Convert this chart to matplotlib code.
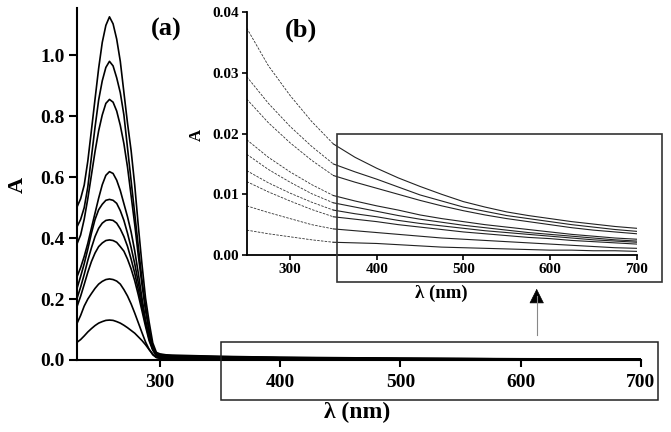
import matplotlib
matplotlib.use("Agg")
import matplotlib.pyplot as plt
from matplotlib.patches import Rectangle, FancyArrowPatch

# ---------------- data ----------------
wl_main = [231, 234, 237, 240, 243, 246, 249, 252, 255, 258, 261, 264, 267, 270,
           273, 276, 279, 282, 285, 288, 291, 294, 297,
           300, 305, 310, 320, 350, 400, 500, 600, 700]

A1 = [0.502, 0.529, 0.574, 0.653, 0.754, 0.856, 0.957, 1.042, 1.098, 1.126, 1.103, 1.053, 0.980, 0.878,
      0.777, 0.687, 0.574, 0.439, 0.315, 0.203, 0.124, 0.056, 0.025,
      0.020, 0.017, 0.016, 0.015, 0.012, 0.009, 0.006, 0.004, 0.003]
A2 = [0.437, 0.461, 0.500, 0.568, 0.666, 0.764, 0.853, 0.916, 0.960, 0.980, 0.965, 0.926, 0.877, 0.804,
      0.696, 0.588, 0.480, 0.372, 0.265, 0.176, 0.098, 0.044, 0.020,
      0.018, 0.015, 0.014, 0.013, 0.011, 0.008, 0.005, 0.0035, 0.0025]
A3 = [0.381, 0.410, 0.462, 0.530, 0.607, 0.684, 0.752, 0.804, 0.842, 0.855, 0.846, 0.817, 0.770, 0.710,
      0.633, 0.539, 0.445, 0.342, 0.248, 0.162, 0.094, 0.043, 0.019,
      0.016, 0.014, 0.013, 0.012, 0.010, 0.0075, 0.005, 0.0035, 0.0025]
A4 = [0.273, 0.303, 0.340, 0.383, 0.433, 0.482, 0.531, 0.575, 0.606, 0.618, 0.612, 0.590, 0.556, 0.513,
      0.470, 0.420, 0.358, 0.284, 0.204, 0.130, 0.074, 0.037, 0.019,
      0.012, 0.011, 0.010, 0.0095, 0.008, 0.006, 0.004, 0.003, 0.002]
A5 = [0.235, 0.274, 0.316, 0.364, 0.416, 0.461, 0.493, 0.511, 0.524, 0.527, 0.524, 0.514, 0.490, 0.458,
      0.416, 0.369, 0.316, 0.253, 0.190, 0.126, 0.074, 0.037, 0.016,
      0.010, 0.0095, 0.009, 0.0085, 0.007, 0.0055, 0.0035, 0.0025, 0.002]
A6 = [0.202, 0.239, 0.281, 0.327, 0.368, 0.405, 0.432, 0.449, 0.458, 0.460, 0.458, 0.449, 0.430, 0.405,
      0.373, 0.331, 0.285, 0.230, 0.175, 0.120, 0.069, 0.035, 0.016,
      0.009, 0.0085, 0.008, 0.0075, 0.0065, 0.005, 0.0033, 0.0024, 0.0018]
A7 = [0.175, 0.209, 0.248, 0.288, 0.323, 0.351, 0.372, 0.384, 0.392, 0.394, 0.392, 0.386, 0.372, 0.357,
      0.331, 0.299, 0.260, 0.213, 0.162, 0.110, 0.063, 0.032, 0.014,
      0.008, 0.0075, 0.007, 0.0065, 0.0055, 0.0045, 0.003, 0.002, 0.0016]
A8 = [0.120, 0.146, 0.177, 0.200, 0.218, 0.235, 0.249, 0.258, 0.264, 0.266, 0.264, 0.259, 0.249, 0.231,
      0.210, 0.184, 0.154, 0.122, 0.090, 0.059, 0.035, 0.017, 0.008,
      0.006, 0.005, 0.0046, 0.0044, 0.0038, 0.003, 0.002, 0.0015, 0.001]
A9 = [0.058, 0.067, 0.079, 0.092, 0.103, 0.113, 0.121, 0.126, 0.130, 0.131, 0.130, 0.126, 0.121, 0.114,
      0.106, 0.097, 0.088, 0.076, 0.064, 0.050, 0.034, 0.020, 0.009,
      0.0055, 0.0045, 0.004, 0.0035, 0.0025, 0.002, 0.0015, 0.001, 0.0008]
main_series = [A1, A2, A3, A4, A5, A6, A7, A8, A9]

# inset (b): wavelengths every 25 nm; dashed up to 350 nm, solid from 350 nm
wl_inset = [250, 275, 300, 325, 350, 375, 400, 425, 450, 475, 500, 525, 550, 575, 600, 625, 650, 675, 700]
B1 = [0.0374, 0.0312, 0.0263, 0.0220, 0.0183, 0.0161, 0.0143, 0.0127, 0.0113, 0.0100, 0.0088, 0.0079, 0.0071, 0.0065, 0.0060, 0.0055, 0.0051, 0.0047, 0.0044]
B2 = [0.0294, 0.0250, 0.0212, 0.0179, 0.0150, 0.0137, 0.0125, 0.0112, 0.0099, 0.0089, 0.0079, 0.0072, 0.0065, 0.0060, 0.0055, 0.0050, 0.0046, 0.0042, 0.0039]
B3 = [0.0257, 0.0218, 0.0185, 0.0156, 0.0131, 0.0120, 0.0110, 0.0100, 0.0090, 0.0081, 0.0073, 0.0066, 0.0060, 0.0055, 0.0050, 0.0045, 0.0041, 0.0038, 0.0035]
B4 = [0.0190, 0.0161, 0.0137, 0.0116, 0.0098, 0.0089, 0.0081, 0.0074, 0.0066, 0.0060, 0.0055, 0.0050, 0.0046, 0.0042, 0.0038, 0.0034, 0.0031, 0.0028, 0.0026]
B5 = [0.0166, 0.0141, 0.0120, 0.0101, 0.0086, 0.0079, 0.0072, 0.0065, 0.0059, 0.0054, 0.0049, 0.0045, 0.0041, 0.0037, 0.0034, 0.0031, 0.0028, 0.0025, 0.0023]
B6 = [0.0139, 0.0119, 0.0102, 0.0087, 0.0074, 0.0068, 0.0063, 0.0057, 0.0052, 0.0048, 0.0044, 0.0040, 0.0037, 0.0034, 0.0031, 0.0028, 0.0025, 0.0023, 0.0021]
B7 = [0.0121, 0.0104, 0.0089, 0.0075, 0.0063, 0.0059, 0.0055, 0.0050, 0.0046, 0.0042, 0.0038, 0.0035, 0.0032, 0.0029, 0.0027, 0.0024, 0.0022, 0.0020, 0.0018]
B8 = [0.0081, 0.0070, 0.0060, 0.0050, 0.0043, 0.0040, 0.0037, 0.0034, 0.0031, 0.0028, 0.0026, 0.0024, 0.0022, 0.0020, 0.0018, 0.0016, 0.0014, 0.0012, 0.0011]
B9 = [0.0041, 0.0035, 0.0030, 0.0025, 0.0021, 0.0020, 0.0019, 0.0017, 0.0015, 0.0013, 0.0012, 0.0011, 0.0010, 0.0009, 0.0008, 0.0008, 0.0007, 0.0007, 0.0006]
inset_series = [B1, B2, B3, B4, B5, B6, B7, B8, B9]
split_wl = 350  # dashed below, solid above

main_xticks = [300, 400, 500, 600, 700]
main_yticks = [0.0, 0.2, 0.4, 0.6, 0.8, 1.0]
inset_xticks = [300, 400, 500, 600, 700]
inset_yticks = [0.00, 0.01, 0.02, 0.03, 0.04]

# ---------------- figure ----------------
plt.rcParams['font.family'] = ['Liberation Serif', 'DejaVu Serif']
plt.rcParams['font.weight'] = 'bold'

W, H = 671, 432
fig = plt.figure(figsize=(W / 100, H / 100), dpi=100)

def fx(px):
    return px / W

def fy(py):
    return 1 - py / H

# main axes
ax = fig.add_axes([fx(77), fy(360), fx(641) - fx(77), fy(8.3) - fy(360)])
for s in main_series:
    ax.plot(wl_main, s, color='black', lw=1.2)
ax.set_xlim(231, 700)
ax.set_ylim(0, 1.154)
ax.set_xticks(main_xticks)
ax.set_yticks(main_yticks)
ax.set_yticklabels([f"{v:.1f}" for v in main_yticks])
for sp in ['top', 'right']:
    ax.spines[sp].set_visible(False)
for sp in ['left', 'bottom']:
    ax.spines[sp].set_linewidth(1.5)
ax.tick_params(axis='x', direction='out', length=5, width=1.5, pad=5, labelsize=14)
ax.tick_params(axis='y', direction='out', length=6, width=1.5, pad=3, labelsize=14)
for lab in ax.get_xticklabels() + ax.get_yticklabels():
    lab.set_fontweight('bold')

fig.text(fx(18), fy(185), 'A', rotation=90, fontsize=16, fontweight='bold',
         ha='center', va='center')
fig.text(fx(357), fy(412), 'λ (nm)', fontsize=17, fontweight='bold',
         ha='center', va='center')
fig.text(fx(166), fy(29), '(a)', fontsize=19, fontweight='bold', ha='center', va='center')

# inset axes
axi = fig.add_axes([fx(246.7), fy(255), fx(636.7) - fx(246.7), fy(12.3) - fy(255)])
k = wl_inset.index(split_wl)
for s in inset_series:
    axi.plot(wl_inset[:k + 1], s[:k + 1], color='#333333', lw=0.6, ls=(0, (3, 1.5)))
    axi.plot(wl_inset[k:], s[k:], color='#222222', lw=0.8)
axi.set_xlim(250, 700)
axi.set_ylim(0, 0.04)
axi.set_xticks(inset_xticks)
axi.set_yticks(inset_yticks)
axi.set_yticklabels([f"{v:.2f}" for v in inset_yticks])
axi.patch.set_alpha(0)
for sp in ['top', 'right']:
    axi.spines[sp].set_visible(False)
for sp in ['left', 'bottom']:
    axi.spines[sp].set_linewidth(1.3)
axi.tick_params(axis='both', direction='out', length=3.5, width=1.2, pad=2, labelsize=11)
for lab in axi.get_xticklabels() + axi.get_yticklabels():
    lab.set_fontweight('bold')

fig.text(fx(197), fy(135), 'A', rotation=90, fontsize=12, fontweight='bold',
         ha='center', va='center')
fig.text(fx(441), fy(293), 'λ (nm)', fontsize=13.5, fontweight='bold',
         ha='center', va='center')
fig.text(fx(301), fy(30), '(b)', fontsize=19, fontweight='bold', ha='center', va='center')

# rectangles
r1 = Rectangle((fx(336.7), fy(282)), fx(662) - fx(336.7), fy(133.7) - fy(282),
               transform=fig.transFigure, fill=False, edgecolor='#333333', lw=1.2)
r2 = Rectangle((fx(221), fy(400)), fx(657.7) - fx(221), fy(342.3) - fy(400),
               transform=fig.transFigure, fill=False, edgecolor='#222222', lw=1.1)
fig.patches.extend([r1, r2])

# arrow
fig.add_artist(plt.Line2D([fx(536.7), fx(536.7)], [fy(335), fy(296)],
                          transform=fig.transFigure, color='#888888', lw=0.8))
arr = FancyArrowPatch((fx(536.7), fy(300)), (fx(536.7), fy(286)),
                      transform=fig.transFigure, arrowstyle='-|>,head_length=6,head_width=3',
                      color='black', lw=0.5, mutation_scale=1.6)
fig.add_artist(arr)

fig.savefig('out.png', dpi=100)
